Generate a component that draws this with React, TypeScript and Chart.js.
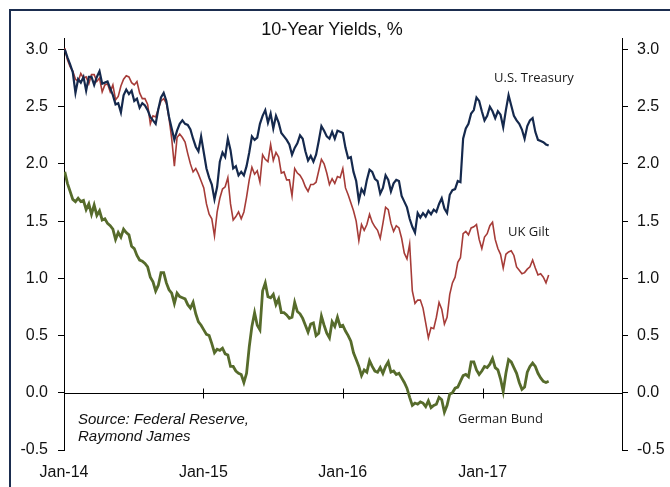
import React, { useEffect, useRef } from 'react';
import { Chart, registerables } from 'chart.js';

Chart.register(...registerables);

// Weekly observations: days elapsed since 1 Jan 2014 (first Friday = 3 Jan 2014)
const weekDays: number[] = [];
for (let i = 0; i < 182; i++) weekDays.push(2 + 7 * i);

const xTickDays = [0, 365, 730, 1096];
const xTickLabels = ['Jan-14', 'Jan-15', 'Jan-16', 'Jan-17'];
const yTicks = [-0.5, 0, 0.5, 1.0, 1.5, 2.0, 2.5, 3.0];

const usTreasury = [
  3.00, 2.93, 2.87, 2.80, 2.62, 2.74, 2.71, 2.76, 2.64, 2.76,
  2.76, 2.69, 2.76, 2.81, 2.70, 2.71, 2.72, 2.66, 2.60, 2.52,
  2.53, 2.45, 2.60, 2.65, 2.61, 2.64, 2.55, 2.57, 2.49, 2.53,
  2.51, 2.47, 2.41, 2.38, 2.35, 2.48, 2.58, 2.62, 2.55, 2.41,
  2.31, 2.21, 2.29, 2.35, 2.38, 2.35, 2.34, 2.30, 2.22, 2.15,
  2.11, 2.24, 2.10, 1.96, 1.88, 1.82, 1.69, 1.80, 2.02, 2.10,
  2.06, 2.22, 2.12, 1.96, 1.98, 1.90, 1.93, 1.90, 1.98, 2.10,
  2.24, 2.21, 2.23, 2.35, 2.42, 2.47, 2.36, 2.44, 2.31, 2.42,
  2.36, 2.27, 2.24, 2.21, 2.17, 2.08, 2.14, 2.18, 2.25, 2.22,
  2.11, 2.03, 2.07, 2.02, 2.08, 2.20, 2.33, 2.29, 2.24, 2.22,
  2.28, 2.22, 2.29, 2.28, 2.27, 2.14, 2.05, 2.06, 1.93, 1.85,
  1.68, 1.78, 1.74, 1.86, 1.95, 1.93, 1.87, 1.85, 1.74, 1.79,
  1.90, 1.86, 1.76, 1.83, 1.86, 1.85, 1.72, 1.67, 1.62, 1.52,
  1.45, 1.40, 1.57, 1.53, 1.57, 1.54, 1.59, 1.56, 1.60, 1.58,
  1.65, 1.70, 1.61, 1.57, 1.73, 1.77, 1.78, 1.85, 1.84, 2.22,
  2.31, 2.35, 2.44, 2.47, 2.58, 2.55, 2.46, 2.38, 2.42, 2.50,
  2.46, 2.40, 2.46, 2.43, 2.32, 2.47, 2.60, 2.51, 2.42, 2.38,
  2.35, 2.30, 2.22, 2.33, 2.38, 2.40, 2.28, 2.21, 2.20, 2.19,
  2.17, 2.16,
];

const ukGilt = [
  3.01, 2.91, 2.85, 2.81, 2.74, 2.72, 2.79, 2.75, 2.76, 2.70,
  2.78, 2.78, 2.72, 2.75, 2.63, 2.69, 2.70, 2.63, 2.69, 2.56,
  2.59, 2.68, 2.74, 2.77, 2.76, 2.71, 2.69, 2.72, 2.62, 2.57,
  2.57, 2.52, 2.35, 2.42, 2.41, 2.48, 2.55, 2.57, 2.53, 2.40,
  2.22, 1.98, 2.23, 2.26, 2.23, 2.19, 2.09, 2.00, 1.93, 1.96,
  1.91, 1.85, 1.79, 1.65, 1.56, 1.52, 1.37, 1.58, 1.70, 1.78,
  1.80, 1.88, 1.65, 1.51, 1.54, 1.58, 1.52, 1.58, 1.71, 1.86,
  1.97, 1.91, 1.94, 1.84, 2.08, 2.04, 2.02, 2.17, 2.03, 2.10,
  2.06, 1.92, 1.93, 1.86, 1.86, 1.72, 1.96, 1.92, 1.90, 1.86,
  1.80, 1.76, 1.82, 1.82, 1.84, 1.94, 2.04, 2.00, 1.92, 1.82,
  1.87, 1.83, 1.89, 1.88, 1.96, 1.79, 1.73, 1.66, 1.59, 1.50,
  1.33, 1.47, 1.42, 1.47, 1.56, 1.49, 1.45, 1.42, 1.35, 1.48,
  1.62, 1.60, 1.48, 1.41, 1.46, 1.44, 1.35, 1.22, 1.17, 1.30,
  0.89, 0.78, 0.81, 0.81, 0.74, 0.61, 0.48, 0.57, 0.56, 0.66,
  0.79, 0.73, 0.60, 0.66, 0.86, 0.96, 1.01, 1.14, 1.18, 1.39,
  1.41, 1.38, 1.44, 1.45, 1.47, 1.34, 1.26, 1.36, 1.39, 1.46,
  1.49, 1.34, 1.26, 1.21, 1.09, 1.21, 1.23, 1.24, 1.20, 1.10,
  1.07, 1.04, 1.05, 1.08, 1.10, 1.16, 1.09, 1.03, 1.04, 1.01,
  0.96, 1.03,
];

const germanBund = [
  1.93, 1.83, 1.76, 1.69, 1.67, 1.70, 1.67, 1.68, 1.60, 1.65,
  1.56, 1.64, 1.55, 1.59, 1.51, 1.52, 1.48, 1.46, 1.43, 1.34,
  1.40, 1.36, 1.43, 1.40, 1.38, 1.28, 1.26, 1.20, 1.16, 1.15,
  1.13, 1.10, 1.01, 0.97, 0.89, 0.94, 1.05, 1.05, 0.96, 0.90,
  0.87, 0.78, 0.87, 0.84, 0.83, 0.82, 0.77, 0.74, 0.79, 0.69,
  0.62, 0.59, 0.55, 0.51, 0.50, 0.43, 0.35, 0.38, 0.37, 0.39,
  0.34, 0.33, 0.23, 0.23, 0.19, 0.17, 0.16, 0.09, 0.17, 0.40,
  0.58, 0.70, 0.59, 0.55, 0.89, 0.96, 0.84, 0.83, 0.86, 0.77,
  0.82, 0.70, 0.70, 0.68, 0.65, 0.66, 0.79, 0.71, 0.69, 0.65,
  0.59, 0.53, 0.60, 0.61, 0.50, 0.52, 0.67, 0.59, 0.52, 0.48,
  0.62, 0.58, 0.66, 0.58, 0.59, 0.54, 0.50, 0.45, 0.35, 0.29,
  0.23, 0.15, 0.20, 0.18, 0.28, 0.23, 0.19, 0.18, 0.22, 0.17,
  0.23, 0.27, 0.18, 0.19, 0.16, 0.17, 0.13, 0.09, 0.04, -0.04,
  -0.11, -0.09, -0.10, -0.08, -0.09, -0.12, -0.07, -0.13, -0.11, -0.10,
  -0.04, -0.06, -0.17, -0.11, -0.01, 0.00, 0.04, 0.05, 0.10, 0.15,
  0.16, 0.14, 0.27, 0.27, 0.20, 0.16, 0.19, 0.23, 0.22, 0.25,
  0.30, 0.22, 0.20, 0.12, 0.01, 0.17, 0.29, 0.27, 0.22, 0.17,
  0.09, 0.03, 0.05, 0.18, 0.23, 0.26, 0.23, 0.17, 0.13, 0.10,
  0.09, 0.10,
];

const TICK_FONT = { family: '"Liberation Sans", Arial, sans-serif', size: 16 };
const TEXT_COLOR = '#111';

const zeroLinePlugin = {
  id: 'zeroLine',
  beforeDatasetsDraw(chart: any) {
    const { ctx, chartArea, scales } = chart;
    const y0 = Math.round(scales.y.getPixelForValue(0)) + 0.5;
    ctx.save();
    ctx.strokeStyle = '#000';
    ctx.lineWidth = 1;
    ctx.beginPath();
    ctx.moveTo(chartArea.left, y0);
    ctx.lineTo(chartArea.right, y0);
    xTickDays.forEach((d) => {
      if (d === 0) return;
      const x = Math.round(scales.x.getPixelForValue(d)) + 0.5;
      ctx.moveTo(x, y0 - 5);
      ctx.lineTo(x, y0 + 5);
    });
    ctx.stroke();
    ctx.restore();
  },
};

const yAxis = (position: 'left' | 'right', width: number, pad: number) => ({
  type: 'linear',
  position,
  min: -0.5,
  max: 3.1,
  afterBuildTicks: (s: any) => {
    s.ticks = yTicks.map((v) => ({ value: v }));
  },
  afterFit: (s: any) => {
    s.width = width;
  },
  grid: { drawOnChartArea: false, drawTicks: true, tickLength: 6, color: '#000', lineWidth: 1 },
  border: { display: true, color: '#000', width: 1 },
  ticks: {
    font: TICK_FONT,
    color: TEXT_COLOR,
    padding: pad,
    callback: (v: any) => Number(v).toFixed(1),
  },
});

export default function App() {
  const ref = useRef<HTMLCanvasElement>(null);

  useEffect(() => {
    const canvas = ref.current;
    if (!canvas) return;
    const chart = new Chart(canvas, {
      type: 'line',
      data: {
        labels: weekDays,
        datasets: [
          {
            label: 'U.S. Treasury',
            data: usTreasury,
            borderColor: '#15294d',
            borderWidth: 2.2,
            pointRadius: 0,
            tension: 0,
            yAxisID: 'y',
          },
          {
            label: 'UK Gilt',
            data: ukGilt,
            borderColor: '#a63c38',
            borderWidth: 1.6,
            pointRadius: 0,
            tension: 0,
            yAxisID: 'y',
          },
          {
            label: 'German Bund',
            data: germanBund,
            borderColor: '#566b2b',
            borderWidth: 2.8,
            pointRadius: 0,
            tension: 0,
            yAxisID: 'y',
          },
        ],
      },
      options: {
        responsive: false,
        animation: false,
        devicePixelRatio: 1,
        layout: { padding: { top: 38, left: 9, right: 0, bottom: 0 } },
        plugins: {
          legend: { display: false },
          tooltip: { enabled: false },
          title: { display: false },
        },
        scales: {
          x: {
            type: 'linear',
            min: 0,
            max: 1461,
            grid: { display: false, drawTicks: false },
            border: { display: false },
            afterBuildTicks: (s: any) => {
              s.ticks = xTickDays.map((v) => ({ value: v }));
            },
            afterFit: (s: any) => {
              s.height = 37;
            },
            ticks: {
              font: TICK_FONT,
              color: TEXT_COLOR,
              padding: 13,
              maxRotation: 0,
              autoSkip: false,
              callback: (v: any) => {
                const i = xTickDays.indexOf(Number(v));
                return i >= 0 ? xTickLabels[i] : '';
              },
            },
          },
          y: yAxis('left', 55, 10),
          y2: yAxis('right', 48, 9),
        } as any,
      },
      plugins: [zeroLinePlugin],
    } as any);
    return () => chart.destroy();
  }, []);

  const label = (text: string, left: number, top: number) => (
    <div
      style={{
        position: 'absolute',
        left,
        top,
        fontFamily: '"Open Sans", sans-serif',
        fontSize: 13,
        lineHeight: '13px',
        color: '#1a1a1a',
        whiteSpace: 'nowrap',
      }}
    >
      {text}
    </div>
  );

  return (
    <div
      style={{
        position: 'fixed',
        left: 0,
        top: 0,
        width: 670,
        height: 487,
        background: '#fff',
        overflow: 'hidden',
      }}
    >
      <div
        style={{
          position: 'absolute',
          left: 9,
          top: 9,
          right: -10,
          bottom: -10,
          borderTop: '2px solid #1b2d4f',
          borderLeft: '2px solid #1b2d4f',
        }}
      />
      <canvas
        ref={ref}
        width={670}
        height={487}
        style={{ position: 'absolute', left: 0, top: 0, width: 670, height: 487 }}
      />
      <div
        style={{
          position: 'absolute',
          left: 0,
          top: 20,
          width: 664,
          textAlign: 'center',
          fontFamily: '"Liberation Sans", Arial, sans-serif',
          fontSize: 18,
          lineHeight: '18px',
          color: TEXT_COLOR,
        }}
      >
        10-Year Yields, %
      </div>
      {label('U.S. Treasury', 494, 71)}
      {label('UK Gilt', 508, 225)}
      {label('German Bund', 458, 412)}
      <div
        style={{
          position: 'absolute',
          left: 78,
          top: 410,
          fontFamily: '"Liberation Sans", Arial, sans-serif',
          fontStyle: 'italic',
          fontSize: 15,
          lineHeight: '17px',
          color: TEXT_COLOR,
          whiteSpace: 'nowrap',
        }}
      >
        Source: Federal Reserve,
        <br />
        Raymond James
      </div>
    </div>
  );
}
